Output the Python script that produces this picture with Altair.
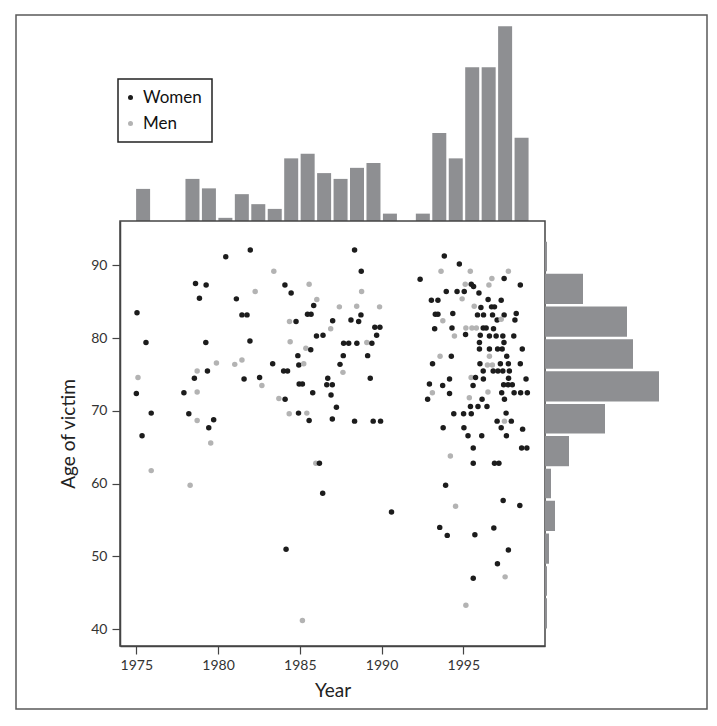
import altair as alt
import pandas as pd

# ---------------- data ----------------
years = [1975.04, 1975.59, 1975.10, 1975.00, 1975.91, 1975.35, 1975.91, 1978.62, 1979.27, 1978.86,
         1979.25, 1980.47, 1981.97, 1981.12, 1981.46, 1981.77, 1981.95, 1983.41, 1982.27, 1979.90,
         1978.72, 1978.55, 1979.35, 1981.02, 1981.46, 1981.59, 1982.68, 1982.54, 1977.91, 1978.72,
         1978.21, 1979.73, 1978.72, 1984.09, 1984.47, 1985.57, 1986.04, 1985.85, 1985.47, 1985.69,
         1984.37, 1984.77, 1986.02, 1986.42, 1984.41, 1985.37, 1985.67, 1984.88, 1984.94, 1985.24,
         1983.34, 1984.01, 1984.25, 1984.96, 1985.16, 1985.79, 1983.72, 1984.10, 1984.35, 1984.92,
         1985.43, 1985.57, 1985.98, 1986.20, 1986.40, 1984.16, 1985.16, 1978.29, 1979.55, 1979.43,
         1988.35, 1988.76, 1988.78, 1987.42, 1988.48, 1988.74, 1989.88, 1987.01, 1988.13, 1988.60,
         1986.89, 1989.59, 1989.90, 1989.70, 1987.68, 1987.99, 1988.49, 1989.10, 1989.41, 1987.66,
         1989.15, 1987.46, 1987.64, 1986.71, 1989.31, 1986.65, 1986.99, 1986.91, 1987.24, 1986.99,
         1988.35, 1989.49, 1989.94, 1990.61, 1992.36, 1993.84, 1994.76, 1993.64, 1995.43, 1997.76,
         1996.75, 1997.50, 1995.12, 1995.49, 1995.63, 1996.57, 1998.49, 1993.96, 1994.62, 1995.06,
         1995.96, 1993.05, 1993.45, 1994.93, 1996.52, 1997.32, 1995.67, 1996.08, 1996.73, 1996.91,
         1993.29, 1993.45, 1994.36, 1995.87, 1996.24, 1996.79, 1997.50, 1998.24, 1993.75, 1997.07,
         1997.32, 1998.16, 1993.25, 1994.31, 1995.16, 1995.53, 1995.80, 1996.22, 1996.40, 1996.85,
         1994.46, 1995.14, 1996.04, 1996.60, 1997.01, 1997.42, 1998.09, 1995.99, 1997.49, 1995.99,
         1996.60, 1997.10, 1997.38, 1998.61, 1993.58, 1994.27, 1996.60, 1997.66, 1993.12, 1996.02,
         1996.48, 1996.78, 1997.27, 1997.76, 1998.49, 1996.22, 1996.83, 1997.12, 1997.42, 1997.82,
         1994.16, 1995.48, 1995.75, 1996.23, 1997.77, 1998.84, 1992.93, 1993.74, 1995.60, 1997.47,
         1997.74, 1998.00, 1993.11, 1994.16, 1996.51, 1997.35, 1998.11, 1998.51, 1998.92, 1992.82,
         1995.37, 1996.15, 1997.52, 1995.44, 1995.90, 1996.45, 1994.42, 1995.02, 1995.49, 1997.62,
         1997.07, 1997.52, 1997.94, 1993.77, 1995.04, 1997.32, 1998.63, 1995.29, 1996.13, 1997.64,
         1995.61, 1998.57, 1998.89, 1994.21, 1995.61, 1996.91, 1997.18, 1993.92, 1997.44, 1994.53,
         1998.46, 1993.56, 1994.02, 1995.71, 1996.87, 1997.76, 1997.09, 1997.56, 1995.61, 1995.16]

ages = [83.5, 79.4, 74.6, 72.4, 69.7, 66.6, 61.8, 87.5, 87.3, 85.5,
        79.4, 91.2, 92.1, 85.4, 83.2, 83.2, 79.6, 89.2, 86.4, 76.6,
        75.5, 74.5, 75.5, 76.4, 77.0, 74.4, 73.5, 74.6, 72.5, 72.6,
        69.6, 68.8, 68.7, 87.3, 86.2, 87.4, 85.3, 84.5, 83.3, 83.3,
        82.3, 82.3, 80.3, 80.4, 79.5, 78.6, 78.4, 77.6, 76.3, 76.5,
        76.5, 75.5, 75.5, 73.7, 73.7, 72.5, 71.7, 71.6, 69.6, 69.7,
        69.7, 68.7, 62.8, 62.8, 58.7, 51.0, 41.2, 59.8, 65.6, 67.7,
        92.1, 89.2, 86.4, 84.3, 84.4, 83.2, 84.3, 82.4, 82.5, 82.3,
        81.3, 81.5, 81.5, 80.4, 79.3, 79.3, 79.3, 79.4, 79.3, 77.6,
        77.6, 76.4, 75.3, 74.5, 74.5, 73.6, 73.6, 72.2, 70.5, 68.9,
        68.6, 68.6, 68.6, 56.1, 88.1, 91.3, 90.2, 89.2, 89.2, 89.2,
        88.2, 88.2, 87.4, 87.4, 87.1, 87.3, 87.3, 86.4, 86.4, 86.4,
        86.2, 85.2, 85.2, 85.4, 85.3, 85.2, 84.4, 84.2, 84.3, 84.3,
        83.3, 83.3, 83.4, 83.2, 83.2, 83.2, 83.2, 83.4, 82.4, 82.5,
        82.6, 82.5, 81.3, 81.4, 81.4, 81.4, 81.4, 81.4, 81.4, 81.3,
        80.3, 80.5, 80.4, 80.3, 80.3, 80.3, 80.3, 79.4, 79.4, 78.5,
        78.5, 78.5, 78.5, 78.5, 77.5, 77.5, 77.5, 77.5, 76.5, 76.5,
        76.3, 76.3, 76.5, 76.5, 76.5, 75.5, 75.5, 75.5, 75.5, 75.5,
        74.4, 74.6, 74.6, 74.4, 74.5, 74.4, 73.7, 73.5, 73.5, 73.6,
        73.6, 73.6, 72.5, 72.4, 72.6, 72.5, 72.5, 72.5, 72.5, 71.6,
        71.8, 71.6, 71.6, 70.6, 70.6, 70.6, 69.6, 69.6, 69.6, 69.7,
        68.6, 68.6, 68.6, 67.7, 67.7, 67.7, 67.5, 66.6, 66.6, 66.6,
        64.9, 64.9, 64.9, 63.8, 62.8, 62.8, 62.8, 59.8, 57.7, 56.9,
        57.0, 54.0, 52.9, 53.0, 53.9, 50.9, 49.0, 47.2, 47.0, 43.3]

sexes = list("WWMWWWMWWW"
             "WWWWWWWMMM"
             "MWWMMWMWWM"
             "WWMWWMMWWW"
             "MWWWMMWWWM"
             "WWWWWWMWMW"
             "MWMWWWMMMW"
             "WWMMMWMWWW"
             "MWWWWWWMWW"
             "WWMWWWWWWW"
             "WWWWWWWMMM"
             "MWMWWMWWWW"
             "WWWMWWMWWW"
             "WWWWWWWWMW"
             "MWWWMMMWWW"
             "MWWWWWWWWW"
             "WWWWMWMWWW"
             "MMWWWWWWWW"
             "WMWWWWWWWW"
             "WWMWMWWWWW"
             "MWWWWWWWWW"
             "WMWWWWWWWW"
             "WWWMWWWWWM"
             "WWWWWWWMWM")
sex_names = {"W": "Women", "M": "Men"}

hist_years = [1975, 1978, 1979, 1980, 1981, 1982, 1983, 1984, 1985, 1986, 1987,
              1988, 1989, 1990, 1992, 1993, 1994, 1995, 1996, 1997, 1998]
hist_counts = [6.1, 8.0, 6.2, 0.6, 5.1, 3.2, 2.3, 11.9, 12.8, 9.1, 8.0,
               10.1, 11.0, 1.4, 1.4, 16.7, 11.9, 29.2, 29.2, 37.0, 15.8]

age_bin_lo = [40.0, 44.5, 48.9, 53.4, 57.9, 62.3, 66.8, 71.2, 75.7, 80.1, 84.6, 89.1]
age_bin_hi = [44.5, 48.9, 53.4, 57.9, 62.3, 66.8, 71.2, 75.7, 80.1, 84.6, 89.1, 93.5]
age_counts = [1, 1, 2, 5, 3, 12, 30, 57, 44, 41, 19, 1]

x_ticks = [1975, 1980, 1985, 1990, 1995]
y_ticks = [40, 50, 60, 70, 80, 90]

# ---------------- tables ----------------
pts = pd.DataFrame({"Year": years, "Age": ages, "Sex": [sex_names[s] for s in sexes]})
top_df = pd.DataFrame({"Year": hist_years, "Count": hist_counts})
right_df = pd.DataFrame({"lo": age_bin_lo, "hi": age_bin_hi, "Count": age_counts})

FONT = "Lato"
BAR = "#8e8f92"
W, H = 425, 425
TOP_H = 200
RIGHT_W = 120
no_view = alt.ViewBackground(stroke="transparent")

# ---------------- top histogram (+ outer frame) ----------------
top_bars = alt.Chart(top_df).mark_bar(size=14, color=BAR).encode(
    x=alt.X("Year:Q", axis=None, scale=alt.Scale(domain=[1973.9, 1999.12], nice=False, zero=False)),
    y=alt.Y("Count:Q", axis=None, scale=alt.Scale(domain=[0, 38], nice=False)),
)
frame = alt.Chart(pd.DataFrame({"f": [0]})).mark_rect(
    filled=False, stroke="#5a5a5a", strokeWidth=1.5
).encode(
    x=alt.value(-104), x2=alt.value(587), y=alt.value(-6), y2=alt.value(688)
)
top = alt.layer(top_bars, frame).properties(width=W, height=TOP_H, view=no_view)

blank = alt.Chart(pd.DataFrame({"b": [0]})).mark_point(opacity=0).encode(
    x=alt.value(0), y=alt.value(0)
).properties(width=1, height=1, view=no_view)

# ---------------- scatter ----------------
scatter = alt.Chart(pts).mark_circle(size=30, opacity=1).encode(
    x=alt.X("Year:Q", title="Year",
            scale=alt.Scale(domain=[1974, 2000], nice=False, zero=False),
            axis=alt.Axis(values=x_ticks, format="d", grid=False, tickSize=8,
                          labelPadding=4, titlePadding=9)),
    y=alt.Y("Age:Q", title="Age of victim",
            scale=alt.Scale(domain=[37.7, 96.1], nice=False, zero=False),
            axis=alt.Axis(values=y_ticks, grid=False, tickSize=8,
                          labelPadding=5, titlePadding=12)),
    color=alt.Color("Sex:N",
                    scale=alt.Scale(domain=["Women", "Men"], range=["#1c1c1c", "#b3b3b3"]),
                    legend=alt.Legend(orient="none", legendX=-2, legendY=58, title=None,
                                      symbolType="circle", symbolSize=25, symbolOffset=-6,
                                      labelFontSize=17, labelFont=FONT, labelColor="#111",
                                      labelOffset=4, padding=10, rowPadding=8,
                                      strokeColor="#222")),
).properties(width=W, height=H,
             view=alt.ViewBackground(stroke="#444", strokeWidth=1.5))

# ---------------- right histogram ----------------
right = alt.Chart(right_df).mark_bar(color=BAR, binSpacing=2.5).encode(
    y=alt.Y("lo:Q", bin="binned", axis=None,
            scale=alt.Scale(domain=[37.7, 96.1], nice=False, zero=False)),
    y2="hi:Q",
    x=alt.X("Count:Q", axis=None, scale=alt.Scale(domain=[0, 60], nice=False)),
).properties(width=RIGHT_W, height=H, view=no_view)

chart = alt.ConcatChart(
    concat=[top, blank, scatter, right], columns=2, spacing=0,
    align="each", bounds="flush",
    padding={"left": 14, "top": 13, "right": 0, "bottom": 0},
    background="white",
).resolve_scale(x="independent", y="independent").configure_axis(
    labelFont=FONT, labelFontSize=14, labelColor="#333",
    titleFont=FONT, titleFontSize=19, titleFontWeight="normal", titleColor="#222",
    domainColor="#444", tickColor="#444", domainWidth=1.5, tickWidth=1.2,
).configure_legend(strokeWidth=1.5)

chart.save("out.html", embed_options={"renderer": "svg", "actions": False})
